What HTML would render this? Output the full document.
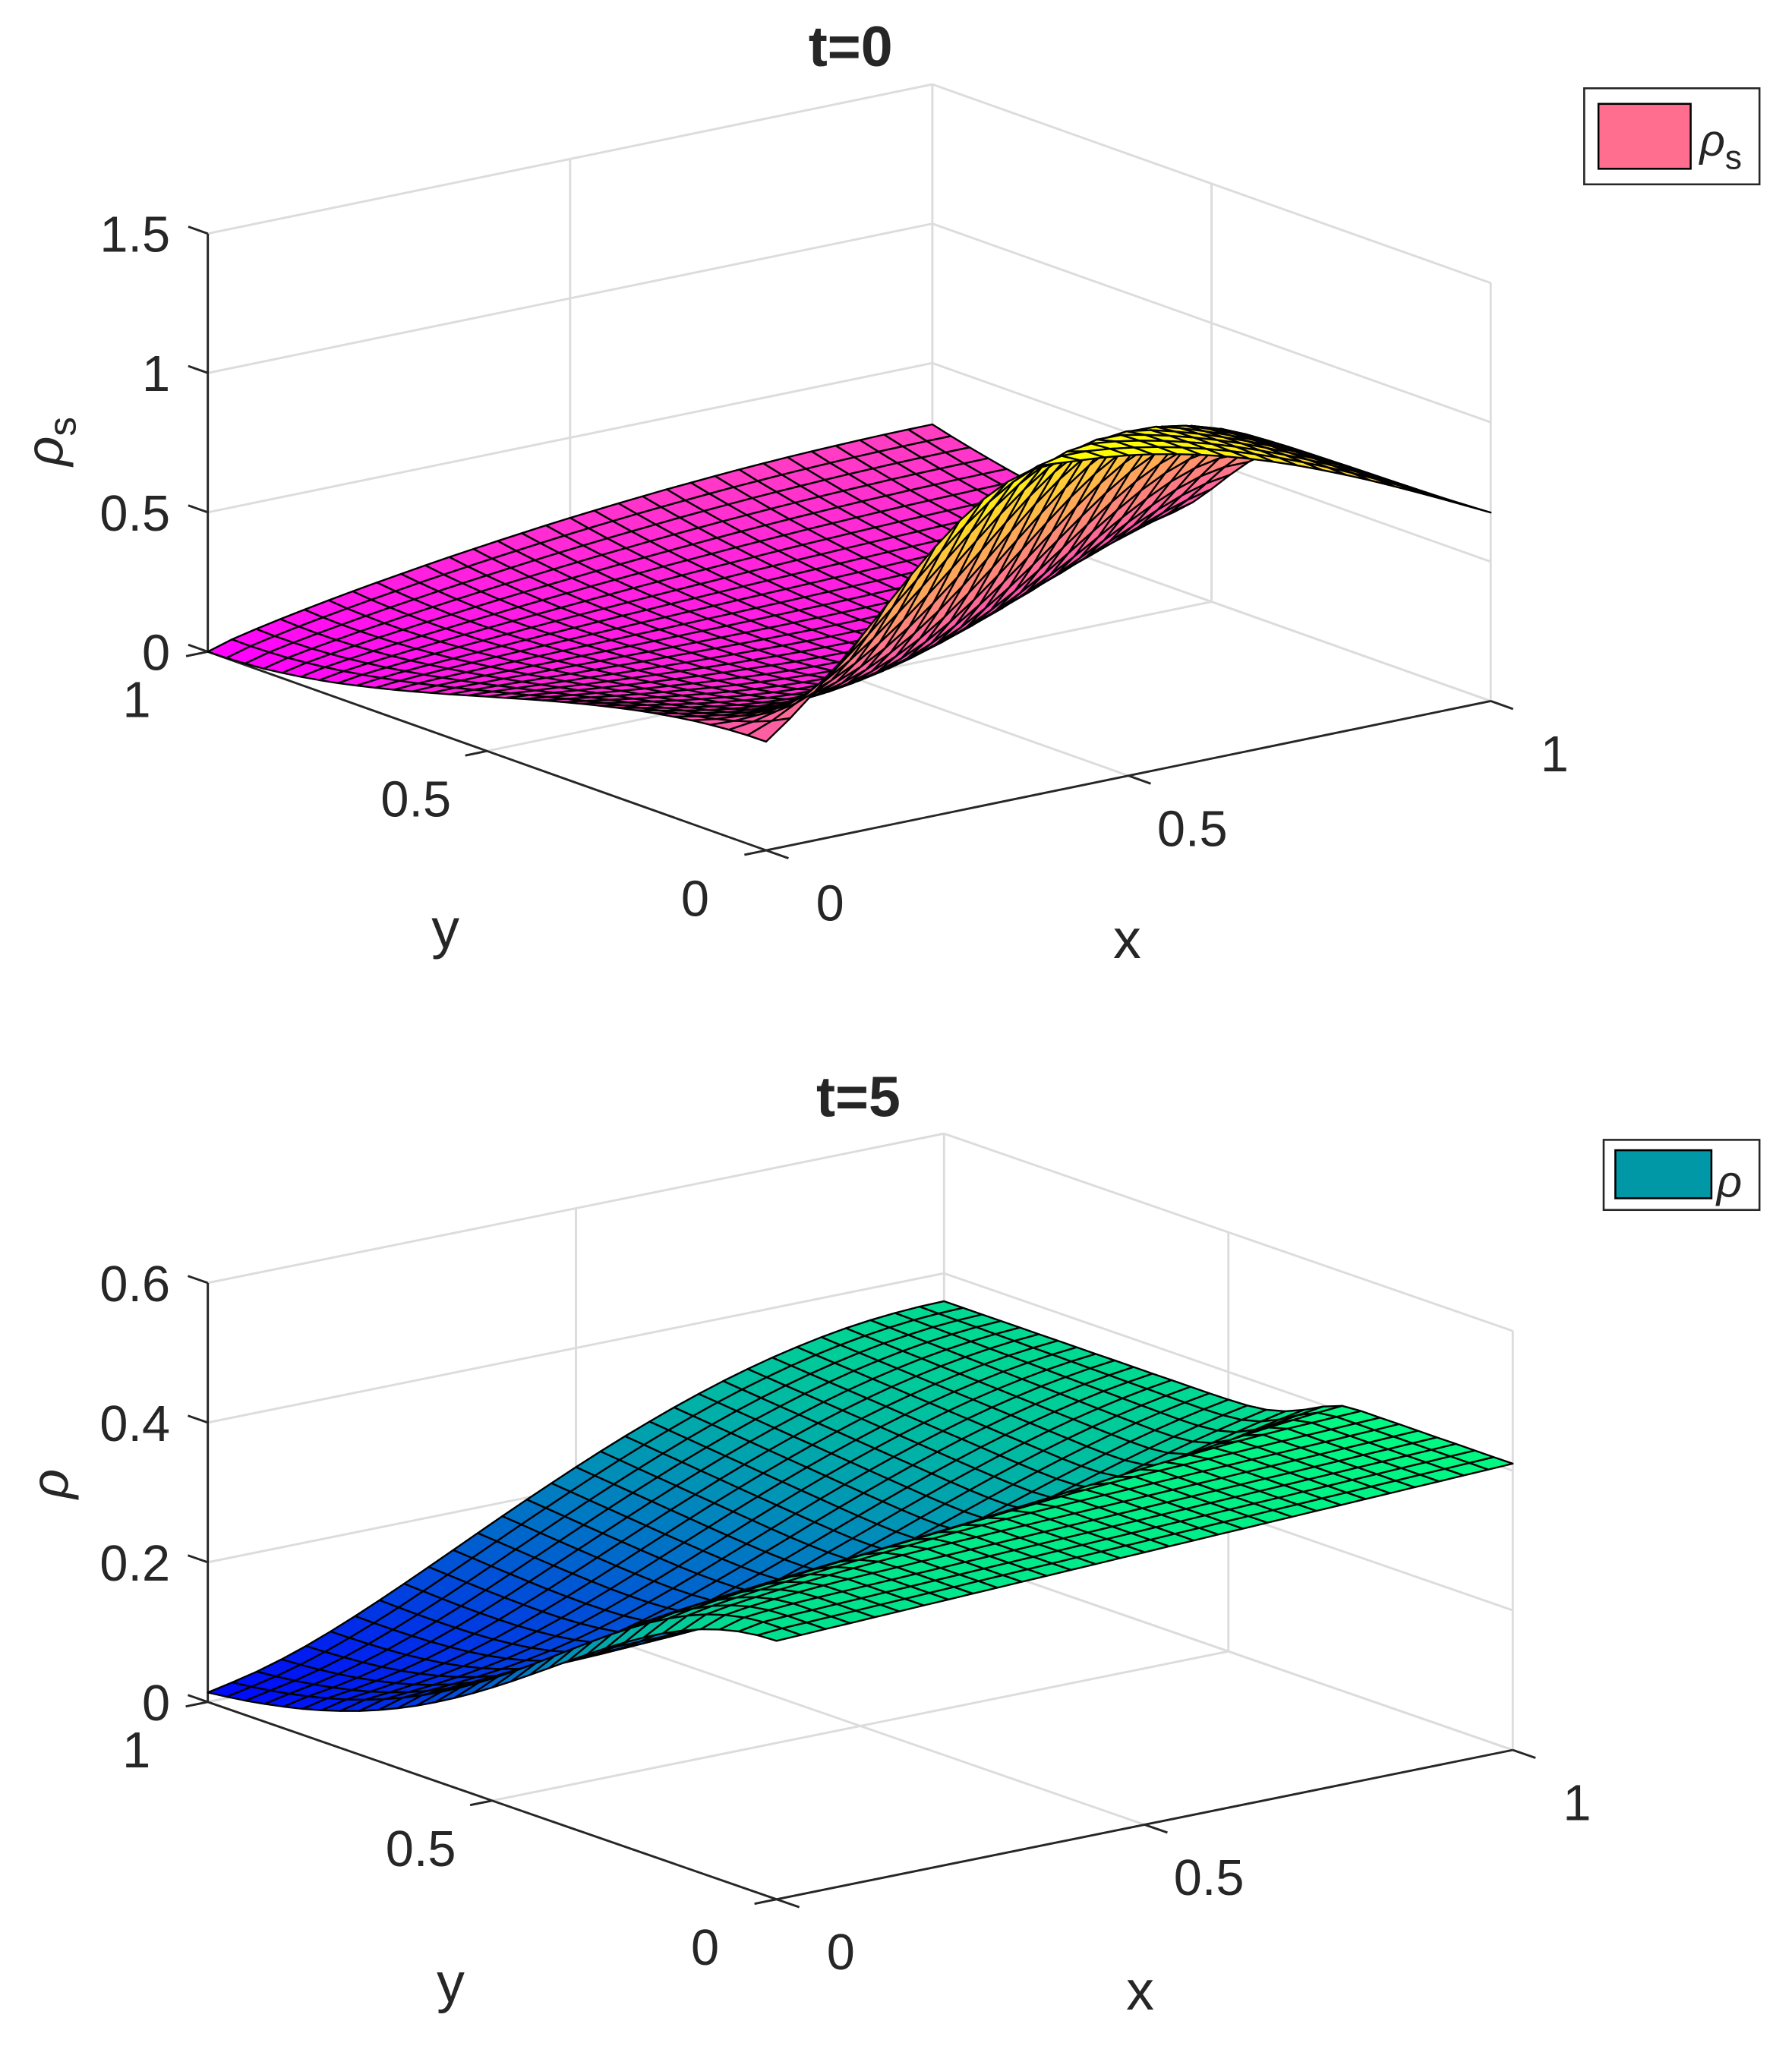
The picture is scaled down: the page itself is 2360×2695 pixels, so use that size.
<!DOCTYPE html>
<html><head><meta charset="utf-8"><style>
html,body{margin:0;padding:0;background:#fff}
svg{display:block}
text{font-family:"Liberation Sans",sans-serif;fill:#262626}
</style></head><body>
<svg id="fig" xmlns="http://www.w3.org/2000/svg" width="2360" height="2695" viewBox="0 0 1380 1576">
<rect width="1380" height="1576" fill="#fff"/>
<g id="top"></g>
<g id="bot"></g>
<text x="655" y="51" text-anchor="middle" font-size="44" font-weight="bold" fill="#000">t=0</text>
<text x="661" y="860" text-anchor="middle" font-size="44" font-weight="bold" fill="#000">t=5</text>
<g>
<rect x="1220" y="68" width="135" height="74" fill="#fff" stroke="#262626" stroke-width="1.5"/>
<rect x="1231" y="80" width="71" height="50" fill="#ff6e8f" stroke="#000" stroke-width="1.5"/>
<text x="1309" y="120" font-size="34" font-style="italic" fill="#000">ρ<tspan font-style="normal" font-size="26" dy="10">s</tspan></text>
</g>
<g>
<rect x="1235" y="878" width="120" height="54" fill="#fff" stroke="#262626" stroke-width="1.5"/>
<rect x="1244" y="886" width="74" height="37" fill="#0097a7" stroke="#000" stroke-width="1.5"/>
<text x="1322" y="922" font-size="34" font-style="italic" fill="#000">ρ</text>
</g>
</svg>
<script>
var N = 30;
var xTicks = [0, 0.5, 1];
var yTicks = [0, 0.5, 1];
var zTicksTop = [0, 0.5, 1, 1.5];
var zTicksBot = [0, 0.2, 0.4, 0.6];
var xTickLabels = ["0", "0.5", "1"];
var yTickLabels = ["0", "0.5", "1"];
var zTickLabelsTop = ["0", "0.5", "1", "1.5"];
var zTickLabelsBot = ["0", "0.2", "0.4", "0.6"];
// surface profile values
var topRidgeStart = 0.4, topRidgeSlope = 1.7, topRidgeHeight = 1.0, topRidgeDrop = 0.5;
var topSigmaLeft = 0.32, topSigmaRight = 1.5, topBackEnd = 0.28, topCorner = 0.39, topFrontRight = 0.25;
var botShelf = 0.37, botShelfRise = 0.04, botBackEnd = 0.36;

var NS = "http://www.w3.org/2000/svg";
function el(tag, attrs, parent) {
  var e = document.createElementNS(NS, tag);
  for (var k in attrs) e.setAttribute(k, attrs[k]);
  parent.appendChild(e);
  return e;
}
function fTop(x, y) {
  var d = x - topRidgeStart - topRidgeSlope * y;
  var s = d < 0 ? topSigmaLeft : topSigmaRight;
  var H = x < 0.45 ? topRidgeHeight : topRidgeHeight - topRidgeDrop * Math.pow((x - 0.45) / 0.55, 2);
  var ridge = H * Math.exp(-Math.pow(d / s, 2)) * (1 - Math.exp(-x / 0.08));
  var B = topBackEnd * Math.pow(Math.sin(Math.PI * x / 2), 0.8) * y * y;
  var t = 1 - y;
  var C = topCorner * t * t * (3 - 2 * t) * Math.pow(1 - x, 2);
  var D = topFrontRight * x * x * t * t;
  return ridge + B + C + D;
}
function fBot(x, y) {
  var y0 = 0.28 * Math.sqrt(x);
  var s = 0.1 + 0.45 * Math.pow(1 - x, 2);
  var S = y < y0 ? 1 : Math.exp(-Math.pow((y - y0) / s, 2));
  var base = botBackEnd * Math.pow(Math.sin(Math.PI * x / 2), 1.3) * (1 - 0.5 * (1 - y) * (1 - x * x));
  return S * (botShelf + botShelfRise * x) + (1 - S) * base;
}
function spring(t) { t = Math.max(0, Math.min(1, t)); return "rgb(255," + Math.round(255 * t) + "," + Math.round(255 * (1 - t)) + ")"; }
function winter(t) { t = Math.max(0, Math.min(1, t)); return "rgb(0," + Math.round(255 * t) + "," + Math.round(255 * (1 - 0.5 * t)) + ")"; }

function makePlot(g, cfg) {
  function P(x, y, z) {
    return [cfg.O[0] + x * cfg.ex[0] + (1 - y) * cfg.ey[0], cfg.O[1] + x * cfg.ex[1] + (1 - y) * cfg.ey[1] - z * cfg.k];
  }
  function line(a, b, stroke, sw, name) {
    var l = el("line", {x1: a[0], y1: a[1], x2: b[0], y2: b[1], stroke: stroke, "stroke-width": sw}, g);
    
    
  }
  var gc = "#dcdcdc", zm = cfg.zmax, gw = 1.7;
  cfg.zt.forEach(function (z) { line(P(0, 1, z), P(1, 1, z), gc, gw, "gridline-z"); });
  cfg.zt.forEach(function (z) { line(P(1, 1, z), P(1, 0, z), gc, gw, "gridline-z"); });
  xTicks.forEach(function (x) { if (x > 0) line(P(x, 1, 0), P(x, 1, zm), gc, gw, "gridline-x"); });
  yTicks.forEach(function (y) { if (y < 1) line(P(1, y, 0), P(1, y, zm), gc, gw, "gridline-y"); });
  xTicks.forEach(function (x) { if (x > 0) line(P(x, 0, 0), P(x, 1, 0), gc, gw, "gridline-x"); });
  yTicks.forEach(function (y) { if (y > 0) line(P(0, y, 0), P(1, y, 0), gc, gw, "gridline-y"); });
  line(P(0, 1, 0), P(0, 1, zm), "#262626", 1.7, "z-axis");
  line(P(0, 1, 0), P(0, 0, 0), "#262626", 1.7, "y-axis");
  line(P(0, 0, 0), P(1, 0, 0), "#262626", 1.7, "x-axis");
  cfg.zt.forEach(function (z, i) {
    line(P(0, 1, z), P(0, 1.035, z), "#262626", 1.7, "z-tick");
    var p = P(0, 1, z);
    var t = el("text", {x: p[0] - 29, y: p[1] + 14, "text-anchor": "end", "font-size": 39}, g);
    t.textContent = cfg.ztl[i];
    
    
  });
  yTicks.forEach(function (y, i) {
    line(P(0, y, 0), P(-0.03, y, 0), "#262626", 1.7, "y-tick");
    var p = P(-0.03, y, 0);
    var t = el("text", {x: p[0] - 38, y: p[1] + 47, "text-anchor": "middle", "font-size": 39}, g);
    t.textContent = yTickLabels[i];
    
    
  });
  xTicks.forEach(function (x, i) {
    line(P(x, 0, 0), P(x, -0.04, 0), "#262626", 1.7, "x-tick");
    var p = P(x, -0.04, 0);
    var t = el("text", {x: p[0] + 32, y: p[1] + 48, "text-anchor": "middle", "font-size": 39}, g);
    t.textContent = xTickLabels[i];
    
    
  });
  var cells = [];
  for (var i = 0; i < N; i++) for (var j = 0; j < N; j++) {
    var x0 = i / N, x1 = (i + 1) / N, y0 = j / N, y1 = (j + 1) / N;
    var zs = [cfg.f(x0, y0), cfg.f(x1, y0), cfg.f(x1, y1), cfg.f(x0, y1)];
    var zc = (zs[0] + zs[1] + zs[2] + zs[3]) / 4;
    var pts = [P(x0, y0, zs[0]), P(x1, y0, zs[1]), P(x1, y1, zs[2]), P(x0, y1, zs[3])];
    cells.push({d: 0.61 * (x0 + x1) / 2 + 0.79 * (y0 + y1) / 2, pts: pts, c: cfg.cmap(zc / cfg.cmax)});
  }
  cells.sort(function (a, b) { return b.d - a.d; });
  var sg = el("g", {}, g);
  
  
  cells.forEach(function (c) {
    var poly = el("polygon", {points: c.pts.map(function (p) { return p[0].toFixed(1) + "," + p[1].toFixed(1); }).join(" "), fill: c.c, stroke: "#000", "stroke-width": 1.4, "stroke-linejoin": "round"}, sg);
    
    
  });
  var a = el("text", {x: cfg.xl[0], y: cfg.xl[1], "text-anchor": "middle", "font-size": 43}, g);
  a.textContent = "x";
  
  
  var b = el("text", {x: cfg.yl[0], y: cfg.yl[1], "text-anchor": "middle", "font-size": 43}, g);
  b.textContent = "y";
  
  
  var c = el("text", {x: cfg.zl[0], y: cfg.zl[1], "text-anchor": "middle", "font-size": 40, "font-style": "italic", transform: "rotate(-90 " + cfg.zl[0] + " " + cfg.zl[1] + ")"}, g);
  
  
  c.textContent = "ρ";
  if (cfg.sub) {
    var ts = el("tspan", {"font-style": "normal", "font-size": 30, dy: 10}, c);
    ts.textContent = "s";
  }
}
makePlot(document.getElementById("top"), {O: [160, 502], ex: [558, -115], ey: [430, 153], k: 214.7, zmax: 1.5,
  zt: zTicksTop, ztl: zTickLabelsTop, f: fTop, cmap: spring, cmax: 1.12, xl: [868, 738], yl: [343, 730], zl: [48, 340], sub: true});
makePlot(document.getElementById("bot"), {O: [160, 1311], ex: [567, -115], ey: [438, 152], k: 538, zmax: 0.6,
  zt: zTicksBot, ztl: zTickLabelsBot, f: fBot, cmap: winter, cmax: 0.42, xl: [878, 1548], yl: [347, 1542], zl: [52, 1143], sub: false});
</script>
</body></html>
